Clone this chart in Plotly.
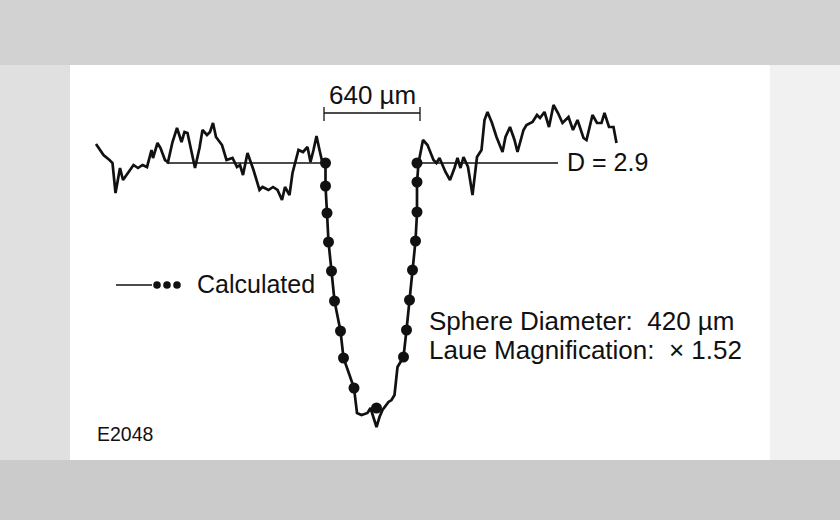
import plotly.graph_objects as go

# Measured densitometer trace: position (µm, relative to sphere centre) and density D
meas_x = [-1840, -1790, -1750, -1730, -1710, -1680, -1660, -1630, -1590, -1560, -1530, -1500,
          -1470, -1460, -1430, -1410, -1380, -1360, -1330, -1300, -1270, -1250, -1230, -1180,
          -1150, -1130, -1100, -1080, -1060, -1040, -1000, -970, -930, -900, -880, -860, -830,
          -790, -750, -730, -690, -660, -630, -600, -580, -550, -530, -490, -460, -430, -410,
          -390, -370, -350, -330, -310, -310, -300, -290, -270, -250, -210, -190, -150, -120,
          -100, -70, -30, -10, 30, 50, 70, 110, 130, 150, 170, 210, 230, 250, 270, 290, 300,
          300, 310, 340, 370, 410, 430, 450, 490, 520, 550, 570, 590, 610, 640, 670, 700, 730,
          750, 770, 800, 830, 870, 890, 920, 950, 970, 1010, 1030, 1070, 1100, 1120, 1150, 1180,
          1210, 1240, 1270, 1310, 1340, 1370, 1410, 1430, 1470, 1500, 1530, 1550, 1580, 1610,
          1630]
meas_d = [3.09, 2.98, 2.93, 2.90, 2.60, 2.85, 2.73, 2.80, 2.88, 2.85, 2.88, 2.86,
          3.03, 2.95, 3.10, 3.05, 2.93, 2.91, 3.11, 3.25, 3.11, 3.21, 3.20, 2.85,
          3.05, 3.23, 3.18, 3.21, 3.30, 3.16, 3.08, 2.93, 2.95, 2.86, 2.88, 2.78, 3.00,
          2.83, 2.63, 2.66, 2.63, 2.66, 2.63, 2.53, 2.66, 2.58, 2.80, 3.03, 3.01, 3.06, 2.91,
          3.03, 3.17, 3.03, 2.90, 2.90, 2.67, 2.40, 2.11, 1.82, 1.52, 1.22, 0.95, 0.78, 0.65,
          0.40, 0.38, 0.40, 0.45, 0.26, 0.36, 0.43, 0.51, 0.53, 0.58, 0.86, 0.96, 1.23, 1.53,
          1.83, 2.12, 2.40, 2.70, 2.90, 3.13, 3.08, 2.93, 2.90, 2.95, 2.81, 2.73, 2.85, 2.95,
          2.85, 2.96, 2.86, 2.58, 2.96, 3.03, 3.33, 3.41, 3.30, 3.16, 3.01, 3.16, 3.26, 3.13,
          3.01, 3.23, 3.28, 3.31, 3.38, 3.35, 3.41, 3.26, 3.48, 3.40, 3.30, 3.36, 3.23, 3.33,
          3.15, 3.13, 3.38, 3.30, 3.30, 3.40, 3.26, 3.26, 3.10]

# Calculated profile (dots)
calc_x = [-310, -310, -300, -290, -270, -250, -210, -190, -120, 30,
          210, 230, 250, 270, 290, 300, 300, 300]
calc_d = [2.90, 2.67, 2.40, 2.11, 1.82, 1.52, 1.22, 0.95, 0.65, 0.45,
          0.96, 1.23, 1.53, 1.83, 2.12, 2.41, 2.71, 2.90]

# Background density level D = 2.9 (drawn on both sides of the dip)
base_x = [-1370, -310, None, 300, 1240]
base_d = [2.9, 2.9, None, 2.9, 2.9]

# Scale bar: 640 µm
bar_x = [-320, 320]
bar_d = [3.40, 3.40]

W, H = 840, 520


def px(x):
    return x / W


def py(y):
    return 1 - y / H


fig = go.Figure()

fig.add_trace(go.Scatter(x=base_x, y=base_d, mode="lines",
                         line=dict(color="#111111", width=1.3), hoverinfo="skip"))
fig.add_trace(go.Scatter(x=meas_x, y=meas_d, mode="lines",
                         line=dict(color="#111111", width=2.7), hoverinfo="skip"))
fig.add_trace(go.Scatter(x=calc_x, y=calc_d, mode="markers",
                         marker=dict(color="#111111", size=11), hoverinfo="skip"))
fig.add_trace(go.Scatter(x=bar_x, y=bar_d, mode="lines",
                         line=dict(color="#111111", width=1.3), hoverinfo="skip"))
for bx in bar_x:
    fig.add_trace(go.Scatter(x=[bx, bx], y=[bar_d[0] + 0.06, bar_d[0] - 0.08], mode="lines",
                             line=dict(color="#111111", width=1.3), hoverinfo="skip"))

shapes = [
    # paper background bands (scanned texture approximated by flat grays)
    dict(type="rect", xref="paper", yref="paper", x0=0, x1=1, y0=py(65), y1=1,
         fillcolor="#d2d2d2", line_width=0, layer="below"),
    dict(type="rect", xref="paper", yref="paper", x0=0, x1=1, y0=0, y1=py(460),
         fillcolor="#cbcbcb", line_width=0, layer="below"),
    dict(type="rect", xref="paper", yref="paper", x0=0, x1=px(70), y0=py(460), y1=py(65),
         fillcolor="#e0e0e0", line_width=0, layer="below"),
    dict(type="rect", xref="paper", yref="paper", x0=px(770), x1=1, y0=py(460), y1=py(65),
         fillcolor="#f1f1f1", line_width=0, layer="below"),
    dict(type="rect", xref="paper", yref="paper", x0=px(70), x1=px(770), y0=py(460), y1=py(65),
         fillcolor="white", line_width=0, layer="below"),
    # legend key
    dict(type="line", xref="paper", yref="paper", x0=px(116), x1=px(152), y0=py(285), y1=py(285),
         line=dict(color="#111111", width=1.3)),
]
for cx in (157, 167, 177):
    shapes.append(dict(type="circle", xref="paper", yref="paper",
                       x0=px(cx - 3.8), x1=px(cx + 3.8), y0=py(285 + 3.8), y1=py(285 - 3.8),
                       fillcolor="#111111", line_width=0))

font = dict(family="Liberation Sans, Arial, sans-serif", color="#111111")
annotations = [
    dict(text="640 µm", x=px(372), y=py(95), xanchor="center", yanchor="middle",
         font=dict(size=26, **font)),
    dict(text="D = 2.9", x=px(565), y=py(162), xanchor="left", yanchor="middle",
         font=dict(size=25, **font)),
    dict(text="Calculated", x=px(195), y=py(284), xanchor="left", yanchor="middle",
         font=dict(size=25, **font)),
    dict(text="Sphere Diameter:  420 µm", x=px(427), y=py(321), xanchor="left",
         yanchor="middle", font=dict(size=26, **font)),
    dict(text="Laue Magnification:  × 1.52", x=px(427), y=py(350), xanchor="left",
         yanchor="middle", font=dict(size=26, **font)),
    dict(text="E2048", x=px(95), y=py(434), xanchor="left", yanchor="middle",
         font=dict(size=19.5, **font)),
]
for a in annotations:
    a.update(xref="paper", yref="paper", showarrow=False)

fig.update_layout(
    width=W, height=H,
    margin=dict(l=0, r=0, t=0, b=0),
    paper_bgcolor="#dedede",
    plot_bgcolor="rgba(0,0,0,0)",
    showlegend=False,
    xaxis=dict(range=[-2480, 3120], visible=False, fixedrange=True),
    yaxis=dict(range=[-0.67, 4.53], visible=False, fixedrange=True),
    shapes=shapes,
    annotations=annotations,
)

fig.write_html("out.html", config={"displayModeBar": False},
               post_script="document.body.style.margin='0';")
